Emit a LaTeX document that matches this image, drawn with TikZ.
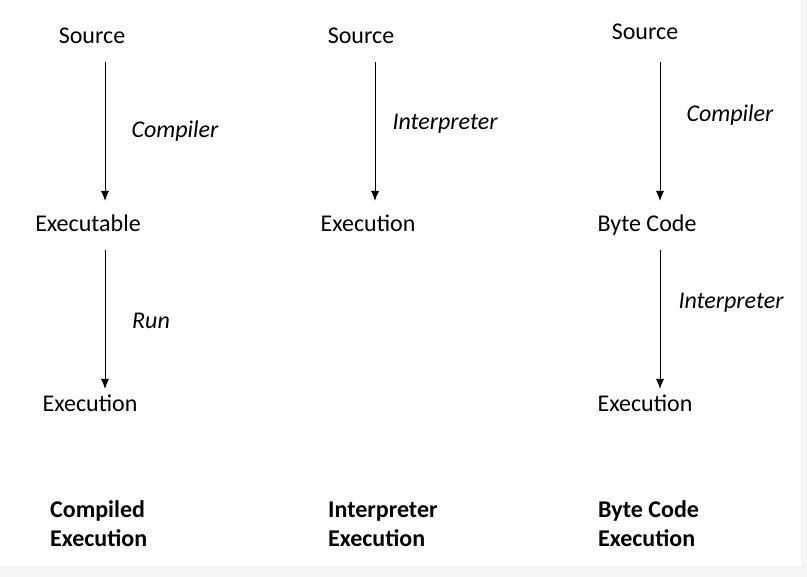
\documentclass[tikz,border=0pt]{standalone}
\usepackage{fontspec}
\setmainfont{Carlito}
\usetikzlibrary{arrows.meta}
\begin{document}
\begin{tikzpicture}[x=1pt,y=-1pt,
  lbl/.style={inner sep=0pt,anchor=base,font=\fontsize{24}{29}\selectfont},
  ital/.style={lbl,font=\fontsize{24}{29}\selectfont\itshape},
  ttl/.style={lbl,font=\fontsize{24}{29}\selectfont\bfseries,align=left,anchor=base west},
  arr/.style={line width=1pt,-{Latex[length=10pt,width=8pt]}}]
\useasboundingbox (0,0) rectangle (807,577);
\fill[white] (0,0) rectangle (807,577);
\fill[black!4] (0,566) rectangle (807,577);
\fill[black!3] (801,0) rectangle (807,566);
% column 1
\node[lbl] (s1) at (92,44) {Source};
\node[lbl] (e1) at (88,232) {Executable};
\node[lbl] (x1) at (90,412) {Execution};
\node[ital] (c1) at (175,138) {Compiler};
\node[ital] (r1) at (151,329) {Run};
\coordinate (a1s) at (105,62);
\coordinate (a1e) at (105,201);
\coordinate (b1s) at (105,250);
\coordinate (b1e) at (105,389);
\draw[arr] (a1s) -- (a1e);
\draw[arr] (b1s) -- (b1e);
\node[ttl] (t1) at (50,547) {Compiled\\Execution};
% column 2
\node[lbl] (s2) at (361,44) {Source};
\node[lbl] (x2) at (368,232) {Execution};
\node[ital] (i2) at (445,130) {Interpreter};
\coordinate (a2s) at (375,62);
\coordinate (a2e) at (375,201);
\draw[arr] (a2s) -- (a2e);
\node[ttl] (t2) at (328,547) {Interpreter\\Execution};
% column 3
\node[lbl] (s3) at (645,40) {Source};
\node[lbl] (b3) at (647,232) {Byte Code};
\node[lbl] (x3) at (645,412) {Execution};
\node[ital] (c3) at (730,122) {Compiler};
\node[ital] (i3) at (731,309) {Interpreter};
\coordinate (a3s) at (660,62);
\coordinate (a3e) at (660,201);
\coordinate (b3s) at (660,250);
\coordinate (b3e) at (660,389);
\draw[arr] (a3s) -- (a3e);
\draw[arr] (b3s) -- (b3e);
\node[ttl] (t3) at (598,547) {Byte Code\\Execution};
\end{tikzpicture}
\end{document}
